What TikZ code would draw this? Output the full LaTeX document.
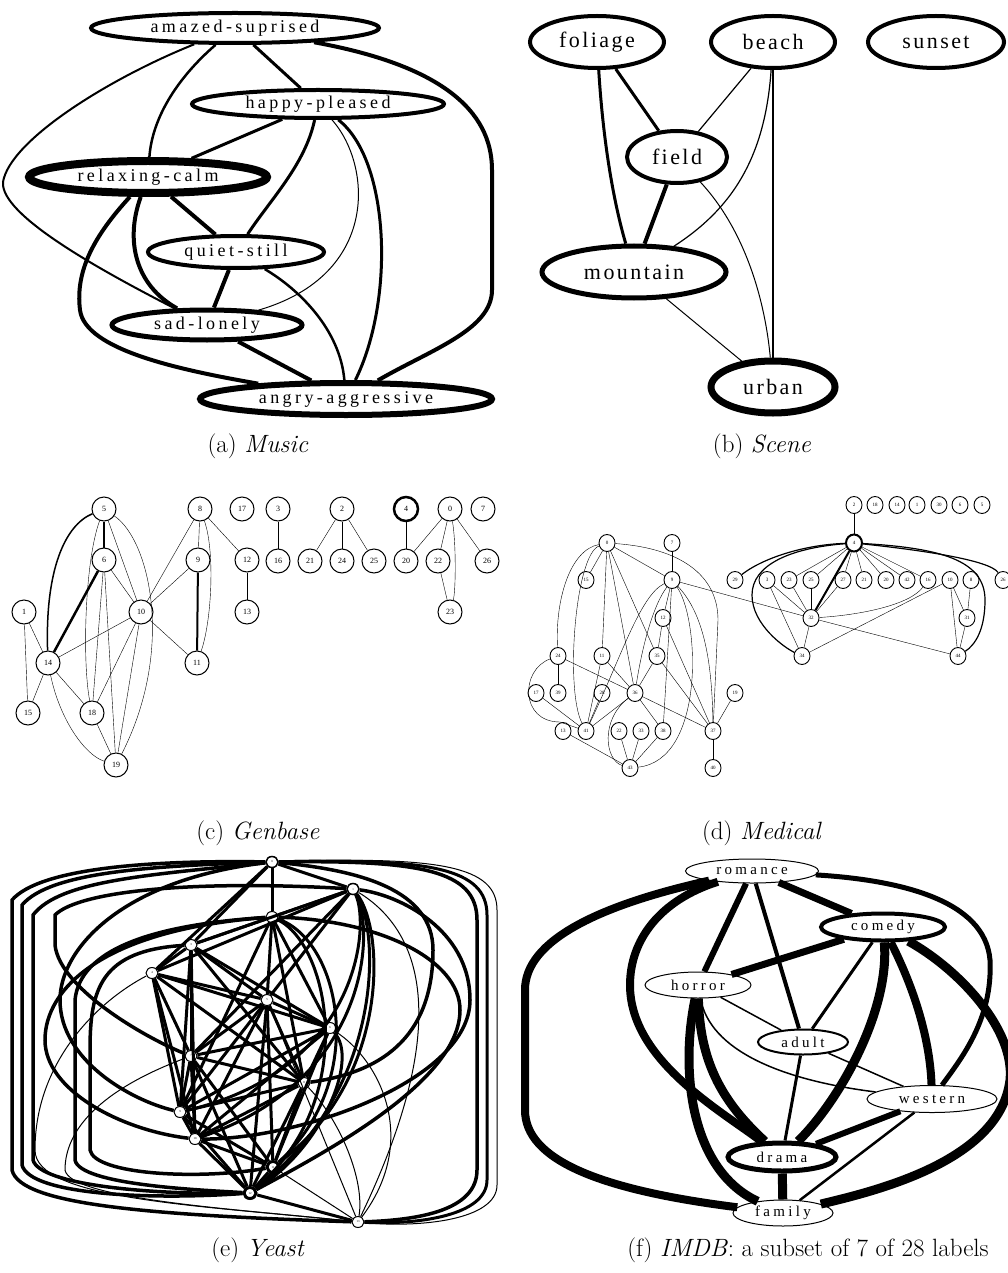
\documentclass[tikz,border=0pt]{standalone}
\usepackage{amsmath}
\usepackage{xcolor}
\usepackage{fontspec}
\newfontfamily\musicfont{Liberation Serif}[LetterSpace=19]
\newfontfamily\scenefont{Liberation Serif}[LetterSpace=11]
\newfontfamily\imdbfont{Liberation Serif}[LetterSpace=22]
\newfontfamily\numfont{Liberation Serif}
\usepackage{tikz}
\usetikzlibrary{positioning, shapes.geometric}

\begin{document}
\begin{tikzpicture}[x=1pt, y=-1pt,
    lab/.style={ellipse, draw, inner sep=0pt},
    mus/.style={lab, font=\musicfont\fontsize{18}{20}\selectfont},
    scn/.style={lab, line width=4pt, minimum height=52pt, font=\scenefont\fontsize{22}{24}\selectfont},
    imdb/.style={lab, font=\imdbfont\fontsize{15}{17}\selectfont},
    gb/.style={circle, draw, line width=1pt, minimum size=24pt, inner sep=0pt, font=\numfont\fontsize{8}{9}\selectfont},
    med/.style={ellipse, draw, line width=0.9pt, minimum width=16pt, minimum height=17pt, inner sep=0pt, font=\numfont\fontsize{5}{6}\selectfont},
    yst/.style={ellipse, draw, line width=1pt, fill=white, minimum width=12pt, minimum height=11pt, inner sep=0pt, font=\numfont\fontsize{3}{4}\selectfont},
    captxt/.style={font=\fontsize{25}{30}\selectfont}]
  \useasboundingbox (0,0) rectangle (1008,1273);

  % (a) music
  \node[mus, line width=4pt, minimum width=288pt, minimum height=30pt] (amazed) at (235,28) {amazed-suprised};
  \node[mus, line width=4pt, minimum width=252pt, minimum height=28pt] (happy) at (318,104) {happy-pleased};
  \node[mus, line width=8pt, minimum width=238pt, minimum height=32pt] (relax) at (148,177) {relaxing-calm};
  \node[mus, line width=4pt, minimum width=176pt, minimum height=32pt] (quiet) at (236,252) {quiet-still};
  \node[mus, line width=5pt, minimum width=190pt, minimum height=30pt] (sad) at (207,325) {sad-lonely};
  \node[mus, line width=6pt, minimum width=292pt, minimum height=32pt] (angry) at (346,399) {angry-aggressive};

  \draw[line width=2.5pt] (amazed) .. controls (175,80) and (152,120) .. (relax);
  \draw[line width=3pt] (amazed) -- (happy);
  \draw[line width=2pt] (amazed) .. controls (110,78) and (10,140) .. (3,182) .. controls (0,215) and (100,270) .. (sad);
  \draw[line width=4pt] (amazed) .. controls (440,65) and (492,110) .. (492,170) -- (492,290) .. controls (492,330) and (430,350) .. (angry);
  \draw[line width=3pt] (happy) -- (relax);
  \draw[line width=3pt] (happy) .. controls (305,165) and (270,200) .. (quiet);
  \draw[line width=1pt] (happy) .. controls (372,165) and (380,275) .. (sad);
  \draw[line width=3pt] (happy) .. controls (390,160) and (395,300) .. (angry);
  \draw[line width=4pt] (relax) -- (quiet);
  \draw[line width=4pt] (relax) .. controls (125,240) and (135,285) .. (sad);
  \draw[line width=4pt] (relax) .. controls (95,235) and (75,270) .. (80,310) .. controls (85,350) and (180,370) .. (angry);
  \draw[line width=4pt] (quiet) -- (sad);
  \draw[line width=2.5pt] (quiet) .. controls (300,290) and (340,330) .. (angry);
  \draw[line width=4pt] (sad) -- (angry);
  \node[captxt] (capa) at (258,446) {(a) \textit{Music}};

  % (b) scene
  \node[scn, minimum width=134pt] (foliage) at (597,42) {foliage};
  \node[scn, minimum width=124pt] (beach) at (773,42) {beach};
  \node[scn, minimum width=136pt] (sunset) at (936,42) {sunset};
  \node[scn, minimum width=100pt] (field) at (677,157) {field};
  \node[scn, line width=5pt, minimum width=184pt] (mountain) at (634,272) {mountain};
  \node[scn, line width=7pt, minimum width=124pt] (urban) at (773,387) {urban};

  \draw[line width=3pt] (foliage) -- (field);
  \draw[line width=3pt] (foliage) .. controls (603,140) and (613,200) .. (mountain);
  \draw[line width=1.2pt] (beach) -- (field);
  \draw[line width=1.2pt] (beach) .. controls (765,160) and (730,210) .. (mountain);
  \draw[line width=1.2pt] (beach) -- (urban);
  \draw[line width=4pt] (field) -- (mountain);
  \draw[line width=1pt] (field) .. controls (745,230) and (765,300) .. (urban);
  \draw[line width=1pt] (mountain) -- (urban);
  \node[captxt] (capb) at (762,446) {(b) \textit{Scene}};

  % (c) genbase
  \node[gb] (g5) at (104,509) {5};
  \node[gb] (g6) at (104,560) {6};
  \node[gb] (g1) at (24,612) {1};
  \node[gb] (g10) at (141,612) {10};
  \node[gb] (g14) at (48,663) {14};
  \node[gb] (g15) at (28,713) {15};
  \node[gb] (g18) at (92,713) {18};
  \node[gb] (g19) at (116,765) {19};
  \node[gb] (g8) at (200,509) {8};
  \node[gb] (g9) at (198,560) {9};
  \node[gb] (g11) at (197,663) {11};
  \node[gb] (g17) at (242,509) {17};
  \node[gb] (g12) at (247,560) {12};
  \node[gb] (g13) at (247,612) {13};
  \node[gb] (g3) at (278,509) {3};
  \node[gb] (g16) at (278,561) {16};
  \node[gb] (g2) at (342,509) {2};
  \node[gb] (g21) at (310,561) {21};
  \node[gb] (g24) at (342,561) {24};
  \node[gb] (g25) at (374,561) {25};
  \node[gb, line width=2.5pt] (g4) at (406,509) {4};
  \node[gb] (g20) at (406,561) {20};
  \node[gb] (g0) at (450,509) {0};
  \node[gb] (g22) at (438,561) {22};
  \node[gb] (g26) at (487,561) {26};
  \node[gb] (g23) at (450,612) {23};
  \node[gb] (g7) at (483,509) {7};

  \draw[line width=2.5pt] (g5) -- (g6);
  \draw[line width=1.5pt] (g5) .. controls (65,525) and (45,570) .. (g14);
  \draw (g5) .. controls (85,560) and (82,660) .. (g18);
  \draw (g5) -- (g10);
  \draw (g5) .. controls (150,540) and (175,650) .. (g19);
  \draw[line width=2.5pt] (g6) -- (g14);
  \draw (g6) -- (g10);
  \draw (g6) -- (g18);
  \draw (g6) -- (g19);
  \draw (g10) -- (g14);
  \draw (g10) -- (g18);
  \draw (g10) -- (g19);
  \draw (g10) -- (g11);
  \draw (g9) -- (g10);
  \draw (g8) -- (g10);
  \draw (g8) -- (g9);
  \draw (g8) .. controls (215,550) and (212,620) .. (g11);
  \draw[line width=2pt] (g9) -- (g11);
  \draw (g8) -- (g12);
  \draw (g12) -- (g13);
  \draw (g1) -- (g14);
  \draw (g1) -- (g15);
  \draw (g14) -- (g15);
  \draw (g14) -- (g18);
  \draw (g14) .. controls (60,720) and (85,755) .. (g19);
  \draw (g18) -- (g19);
  \draw (g3) -- (g16);
  \draw (g2) -- (g21);
  \draw (g2) -- (g24);
  \draw (g2) -- (g25);
  \draw (g4) -- (g20);
  \draw (g0) -- (g20);
  \draw (g0) -- (g22);
  \draw (g0) -- (g26);
  \draw (g0) .. controls (456,540) and (456,590) .. (g23);
  \draw (g22) -- (g23);
  \node[captxt] (capc) at (258,833) {(c) \textit{Genbase}};

  % (d) medical
  \node[med] (m0) at (607,543) {0};
  \node[med] (m7) at (672,543) {7};
  \node[med] (m15) at (586,580) {15};
  \node[med] (m9) at (672,580) {9};
  \node[med] (m29) at (735,580) {29};
  \node[med] (m12) at (663,618) {12};
  \node[med] (m24) at (558,656) {24};
  \node[med] (m11) at (602,656) {11};
  \node[med] (m35) at (657,656) {35};
  \node[med] (m17) at (536,693) {17};
  \node[med] (m39) at (558,693) {39};
  \node[med] (m28) at (602,693) {28};
  \node[med] (m36) at (635,693) {36};
  \node[med] (m19) at (735,693) {19};
  \node[med] (m13) at (563,731) {13};
  \node[med] (m41) at (586,731) {41};
  \node[med] (m22) at (619,731) {22};
  \node[med] (m33) at (641,731) {33};
  \node[med] (m38) at (663,731) {38};
  \node[med] (m37) at (713,731) {37};
  \node[med] (m43) at (630,768) {43};
  \node[med] (m40) at (713,768) {40};
  \node[med] (m2) at (854,505) {2};
  \node[med] (m18) at (875,505) {18};
  \node[med] (m14) at (897,505) {14};
  \node[med] (m1) at (917,505) {1};
  \node[med] (m30) at (939,505) {30};
  \node[med] (m6) at (960,505) {6};
  \node[med] (m5) at (982,505) {5};
  \node[med, line width=2pt] (m4) at (854,543) {4};
  \node[med] (m3) at (767,580) {3};
  \node[med] (m23) at (789,580) {23};
  \node[med] (m25) at (811,580) {25};
  \node[med] (m27) at (843,580) {27};
  \node[med] (m21) at (864,580) {21};
  \node[med] (m20) at (886,580) {20};
  \node[med] (m42) at (907,580) {42};
  \node[med] (m16) at (928,580) {16};
  \node[med] (m10) at (950,580) {10};
  \node[med] (m8) at (971,580) {8};
  \node[med] (m26) at (1003,580) {26};
  \node[med] (m32) at (811,618) {32};
  \node[med] (m31) at (967,618) {31};
  \node[med] (m34) at (802,656) {34};
  \node[med] (m44) at (958,656) {44};

  \draw (m0) -- (m15);
  \draw (m0) -- (m9);
  \draw (m0) -- (m11);
  \draw (m0) -- (m36);
  \draw (m0) -- (m35);
  \draw (m0) .. controls (570,550) and (555,600) .. (m24);
  \draw (m0) .. controls (575,555) and (565,690) .. (m41);
  \draw (m0) .. controls (680,548) and (718,575) .. (718,620) -- (m37);
  \draw (m7) -- (m9);
  \draw (m9) -- (m12);
  \draw (m9) -- (m38);
  \draw (m9) .. controls (650,610) and (640,660) .. (m36);
  \draw (m9) .. controls (640,595) and (620,660) .. (m41);
  \draw (m9) .. controls (700,610) and (712,650) .. (m37);
  \draw (m9) .. controls (700,620) and (705,760) .. (m43);
  \draw (m9) -- (m32);
  \draw (m12) -- (m35);
  \draw (m12) -- (m37);
  \draw (m11) -- (m41);
  \draw (m11) -- (m36);
  \draw (m35) -- (m36);
  \draw (m35) -- (m37);
  \draw (m24) -- (m39);
  \draw (m24) -- (m36);
  \draw (m24) .. controls (520,670) and (520,722) .. (560,722) -- (m41);
  \draw (m17) -- (m41);
  \draw (m28) -- (m41);
  \draw (m13) -- (m43);
  \draw (m36) -- (m41);
  \draw (m36) -- (m38);
  \draw (m36) -- (m37);
  \draw (m36) .. controls (600,720) and (605,760) .. (m43);
  \draw (m22) -- (m43);
  \draw (m33) -- (m43);
  \draw (m38) -- (m43);
  \draw (m19) -- (m37);
  \draw (m37) -- (m40);
  \draw (m2) -- (m4);
  \draw[line width=1.2pt] (m4) .. controls (800,545) and (760,560) .. (m29);
  \draw[line width=1.2pt] (m4) .. controls (790,548) and (752,565) .. (752,595) .. controls (752,625) and (785,648) .. (m34);
  \draw (m4) -- (m23);
  \draw (m4) -- (m25);
  \draw (m4) -- (m27);
  \draw (m4) -- (m21);
  \draw (m4) -- (m20);
  \draw (m4) -- (m42);
  \draw (m4) -- (m16);
  \draw[line width=2pt] (m4) -- (m32);
  \draw[line width=1.2pt] (m4) .. controls (920,550) and (990,560) .. (m26);
  \draw[line width=1.2pt] (m4) .. controls (940,548) and (985,560) .. (985,600) .. controls (985,630) and (975,645) .. (m44);
  \draw (m3) -- (m32);
  \draw (m23) -- (m32);
  \draw (m25) -- (m32);
  \draw (m27) -- (m32);
  \draw (m32) .. controls (860,615) and (910,605) .. (m16);
  \draw (m32) -- (m34);
  \draw (m32) -- (m44);
  \draw (m3) -- (m34);
  \draw (m10) -- (m34);
  \draw (m10) -- (m44);
  \draw (m10) -- (m31);
  \draw (m8) -- (m31);
  \draw (m31) -- (m44);
  \node[captxt] (capd) at (762,833) {(d) \textit{Medical}};

  % (e) yeast
  \node[yst, line width=1.5pt] (y0) at (272,862) {0};
  \node[yst, line width=1.5pt] (y1) at (353,889) {1};
  \node[yst] (y2) at (272,917) {2};
  \node[yst] (y3) at (191,945) {3};
  \node[yst] (y4) at (152,973) {4};
  \node[yst] (y5) at (267,1000) {5};
  \node[yst] (y6) at (330,1028) {6};
  \node[yst] (y7) at (191,1056) {7};
  \node[yst] (y8) at (304,1083) {8};
  \node[yst] (y9) at (180,1112) {9};
  \node[yst] (y10) at (195,1139) {10};
  \node[yst, line width=3pt] (y11) at (273,1167) {11};
  \node[yst, line width=3pt] (y12) at (250,1193) {12};
  \node[yst] (y13) at (358,1222) {13};

  \foreach \a/\b in {0/1, 0/2, 0/3, 0/4, 1/2, 1/3, 1/4, 1/5, 1/7, 2/3, 2/5, 2/6, 2/8, 2/9,
      3/4, 3/5, 3/6, 3/7, 3/8, 3/9, 3/10, 4/5, 4/6, 4/7, 4/9, 4/10, 4/8, 5/6, 5/7, 5/8, 5/9,
      5/10, 5/11, 5/12, 6/7, 6/8, 6/9, 6/10, 6/11, 7/8, 7/9, 7/10, 7/11, 7/12, 8/9, 8/10,
      8/11, 8/12, 9/10, 9/11, 9/12, 10/11, 10/12, 11/12, 12/13}
    \draw[line width=3pt] (y\a) -- (y\b);
  \draw[line width=1pt] (y11) -- (y13);
  \draw[line width=1pt] (y5) -- (y13);
  \draw[line width=1pt] (y8) .. controls (340,1120) and (365,1180) .. (y13);
  \draw[line width=1pt] (y6) .. controls (380,1060) and (420,1140) .. (y13);
  \draw[line width=1pt] (y1) .. controls (420,930) and (455,1020) .. (y13);
  % outer loops, right
  \draw[line width=3.5pt] (y0) .. controls (420,860) and (477,870) .. (477,920) -- (477,1170) .. controls (477,1210) and (420,1220) .. (y13);
  \draw[line width=3pt] (y0) .. controls (430,858) and (487,868) .. (487,915) -- (487,1180) .. controls (487,1215) and (420,1225) .. (y13);
  \draw[line width=1pt] (y0) .. controls (440,856) and (497,866) .. (497,910) -- (497,1185) .. controls (497,1220) and (420,1228) .. (y13);
  \draw[line width=3.5pt] (y8) .. controls (400,1070) and (433,1020) .. (433,950) .. controls (433,890) and (360,870) .. (y0);
  \draw[line width=3.5pt] (y10) .. controls (300,1140) and (470,1080) .. (470,1000) .. controls (470,930) and (400,895) .. (y1);
  \draw[line width=3.5pt] (y2) .. controls (380,920) and (460,960) .. (460,1010) .. controls (460,1080) and (330,1150) .. (y12);
  \draw[line width=3pt] (y1) .. controls (385,930) and (390,1080) .. (y11);
  \draw[line width=3pt] (y1) .. controls (380,930) and (385,1090) .. (y12);
  \draw[line width=3pt] (y1) .. controls (375,930) and (370,1080) .. (y10);
  \draw[line width=3pt] (y1) .. controls (370,925) and (360,1070) .. (y9);
  \draw[line width=3pt] (y2) .. controls (340,940) and (370,1080) .. (y11);
  \draw[line width=3pt] (y2) .. controls (330,945) and (360,1100) .. (y12);
  \draw[line width=3pt] (y6) .. controls (360,1060) and (320,1150) .. (y12);
  % outer loops, left
  \draw[line width=3.5pt] (y0) .. controls (150,860) and (40,868) .. (12,900) -- (12,1170) .. controls (20,1205) and (150,1215) .. (y13);
  \draw[line width=3.5pt] (y0) .. controls (150,866) and (50,872) .. (22,905) -- (22,1165) .. controls (30,1195) and (150,1200) .. (y12);
  \draw[line width=3.5pt] (y0) .. controls (150,875) and (60,880) .. (33,915) -- (33,1160) .. controls (40,1185) and (150,1195) .. (y12);
  \draw[line width=3.5pt] (y1) .. controls (200,880) and (80,890) .. (55,915) -- (55,945) .. controls (60,990) and (150,1040) .. (y7);
  \draw[line width=3.5pt] (y2) .. controls (150,925) and (80,950) .. (75,1000) -- (75,1160) .. controls (80,1185) and (200,1190) .. (y12);
  \draw[line width=3.5pt] (y3) .. controls (100,950) and (90,990) .. (90,1050) -- (90,1150) .. controls (95,1175) and (200,1180) .. (y11);
  \draw[line width=3.5pt] (y2) .. controls (100,930) and (45,990) .. (45,1040) .. controls (45,1090) and (120,1130) .. (y10);
  \draw[line width=3.5pt] (y0) .. controls (120,880) and (60,950) .. (60,1000) .. controls (60,1060) and (130,1100) .. (y9);
  \draw[line width=1pt] (y4) .. controls (100,1000) and (35,1060) .. (35,1150) .. controls (35,1200) and (200,1205) .. (y13);
  \draw[line width=1pt] (y7) .. controls (100,1090) and (65,1130) .. (65,1170) .. controls (70,1200) and (250,1210) .. (y13);
  \node[captxt] (cape) at (258,1250) {(e) \textit{Yeast}};

  % (f) imdb
  \node[imdb, line width=1pt, minimum width=133pt, minimum height=24pt] (romance) at (752,871) {romance};
  \node[imdb, line width=4pt, minimum width=124pt, minimum height=27pt] (comedy) at (883,927) {comedy};
  \node[imdb, line width=1pt, minimum width=106pt, minimum height=26pt] (horror) at (698,985) {horror};
  \node[imdb, line width=2pt, minimum width=90pt, minimum height=25pt] (adult) at (803,1042) {adult};
  \node[imdb, line width=1pt, minimum width=130pt, minimum height=27pt] (western) at (932,1099) {western};
  \node[imdb, line width=5pt, minimum width=108pt, minimum height=28pt] (drama) at (782,1157) {drama};
  \node[imdb, line width=1pt, minimum width=100pt, minimum height=26pt] (family) at (783,1213) {family};

  \draw[line width=8pt] (romance) .. controls (600,905) and (525,940) .. (525,990) -- (525,1110) .. controls (525,1160) and (600,1190) .. (family);
  \draw[line width=8pt] (romance) .. controls (660,900) and (630,940) .. (630,985) .. controls (630,1060) and (720,1110) .. (drama);
  \draw[line width=6pt] (romance) -- (horror);
  \draw[line width=4pt] (romance) -- (adult);
  \draw[line width=7pt] (romance) -- (comedy);
  \draw[line width=5pt] (romance) .. controls (900,880) and (985,900) .. (990,960) .. controls (993,1020) and (960,1060) .. (western);
  \draw[line width=7pt] (comedy) -- (horror);
  \draw[line width=3pt] (comedy) -- (adult);
  \draw[line width=9pt] (comedy) .. controls (890,1010) and (840,1100) .. (drama);
  \draw[line width=8pt] (comedy) .. controls (915,990) and (930,1040) .. (western);
  \draw[line width=9pt] (comedy) .. controls (960,970) and (1015,1030) .. (1010,1080) .. controls (1000,1160) and (880,1190) .. (family);
  \draw[line width=1.5pt] (horror) -- (adult);
  \draw[line width=1.5pt] (horror) .. controls (710,1050) and (780,1080) .. (western);
  \draw[line width=9pt] (horror) .. controls (700,1060) and (720,1100) .. (drama);
  \draw[line width=9pt] (horror) .. controls (680,1070) and (690,1170) .. (family);
  \draw[line width=3pt] (adult) -- (drama);
  \draw[line width=1.5pt] (adult) -- (western);
  \draw[line width=6pt] (western) -- (drama);
  \draw[line width=2.5pt] (western) -- (family);
  \draw[line width=9pt] (drama) -- (family);
  \node[captxt] (capf) at (808,1250) {(f) \textit{IMDB}: a subset of 7 of 28 labels};
\end{tikzpicture}
\end{document}
